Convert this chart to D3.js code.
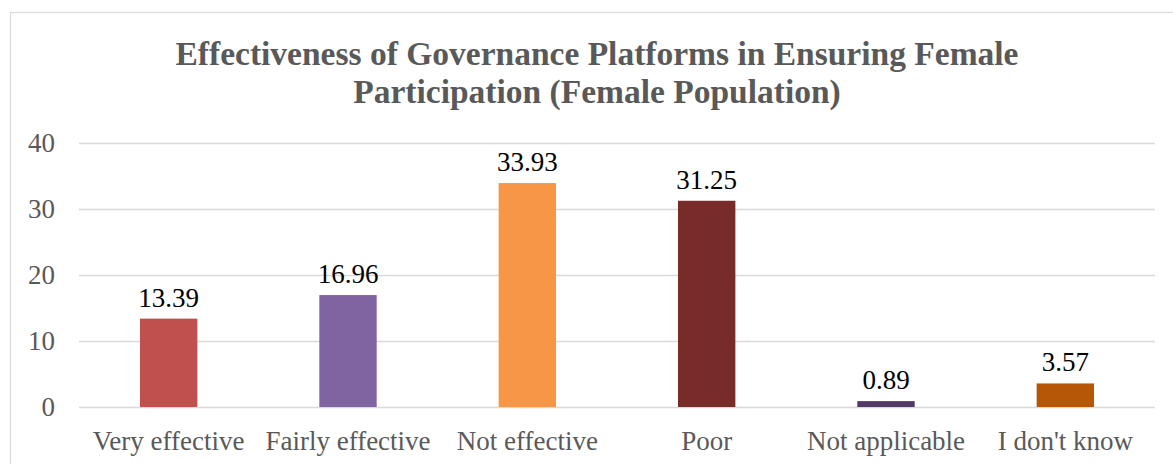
<!DOCTYPE html>
<html>
<head>
<meta charset="utf-8">
<script src="https://cdn.jsdelivr.net/npm/d3@7"></script>
<style>
  html, body { margin: 0; padding: 0; background: #fff; }
  svg { display: block; }
</style>
</head>
<body>
<svg id="chart" width="1173" height="464"></svg>
<script>
// Survey responses (percent of female respondents)
const categories = ["Very effective", "Fairly effective", "Not effective", "Poor", "Not applicable", "I don't know"];
const values = [13.39, 16.96, 33.93, 31.25, 0.89, 3.57];
const barColors = ["#C0504D", "#8064A2", "#F79646", "#772C2A", "#4F3A68", "#B65708"];
const yTicks = [0, 10, 20, 30, 40];
const titleLines = ["Effectiveness of Governance Platforms in Ensuring Female", "Participation (Female Population)"];

const svg = d3.select("#chart");
const FAMILY = "Liberation Serif, Tinos, Times New Roman, DejaVu Serif, Noto Serif, serif";

// Outer frame (continues past the right and bottom edges)
svg.append("rect")
  .attr("x", 10.5).attr("y", 12.5)
  .attr("width", 1200).attr("height", 500)
  .attr("fill", "none").attr("stroke", "#d9d9d9").attr("stroke-width", 1.2);

// Title
svg.append("g").selectAll("text")
  .data(titleLines)
  .join("text")
  .attr("x", 597)
  .attr("y", (d, i) => 65 + i * 38)
  .attr("text-anchor", "middle")
  .attr("font-family", FAMILY)
  .attr("font-weight", "bold")
  .attr("font-size", 33.5)
  .attr("fill", "#595959")
  .text(d => d);

const plot = { left: 79, right: 1155, top: 143, bottom: 407 };

const x = d3.scaleBand()
  .domain(categories)
  .range([plot.left, plot.right])
  .paddingInner(0.68)
  .paddingOuter(0.34);

const y = d3.scaleLinear()
  .domain([0, 40])
  .range([plot.bottom, plot.top]);

// Gridlines
svg.append("g").selectAll("line")
  .data(yTicks)
  .join("line")
  .attr("x1", plot.left).attr("x2", plot.right)
  .attr("y1", d => Math.round(y(d)) + 0.5).attr("y2", d => Math.round(y(d)) + 0.5)
  .attr("stroke", "#d9d9d9").attr("stroke-width", 1.5);

// Y axis labels
const yg = svg.append("g")
  .attr("transform", `translate(${plot.left - 24},0)`)
  .call(d3.axisLeft(y).tickValues(yTicks).tickSize(0).tickPadding(0))
  .attr("font-family", FAMILY).attr("font-size", 27);
yg.select(".domain").remove();
yg.selectAll("text").attr("fill", "#595959");

// X axis labels
const xg = svg.append("g")
  .attr("transform", `translate(0,${plot.bottom + 24})`)
  .call(d3.axisBottom(x).tickSize(0).tickPadding(0))
  .attr("font-family", FAMILY).attr("font-size", 27);
xg.select(".domain").remove();
xg.selectAll("text").attr("fill", "#595959");

// Bars
svg.append("g").selectAll("rect")
  .data(values)
  .join("rect")
  .attr("x", (d, i) => x(categories[i]))
  .attr("y", d => y(d))
  .attr("width", x.bandwidth())
  .attr("height", d => y(0) - y(d))
  .attr("fill", (d, i) => barColors[i]);

// Value labels
svg.append("g").selectAll("text")
  .data(values)
  .join("text")
  .attr("x", (d, i) => x(categories[i]) + x.bandwidth() / 2)
  .attr("y", d => y(d) - 12)
  .attr("text-anchor", "middle")
  .attr("font-family", FAMILY)
  .attr("font-size", 27)
  .attr("fill", "#000")
  .text(d => d.toFixed(2));
</script>
</body>
</html>
